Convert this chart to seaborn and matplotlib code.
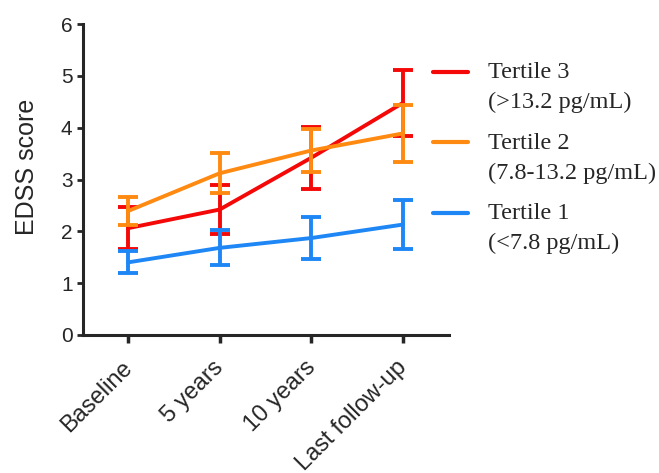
import numpy as np
import pandas as pd
import seaborn as sns
import matplotlib.pyplot as plt
from matplotlib.transforms import ScaledTranslation

timepoints = ['Baseline', '5 years', '10 years', 'Last follow-up']
groups = ['Tertile 3\n(>13.2 pg/mL)', 'Tertile 2\n(7.8-13.2 pg/mL)', 'Tertile 1\n(<7.8 pg/mL)']

t3_mean = [2.06, 2.42, 3.42, 4.48]
t3_err = [0.40, 0.48, 0.60, 0.64]
t2_mean = [2.39, 3.12, 3.56, 3.89]
t2_err = [0.27, 0.39, 0.41, 0.55]
t1_mean = [1.40, 1.68, 1.87, 2.13]
t1_err = [0.21, 0.34, 0.40, 0.48]

colors = ['#F40808', '#FF8A12', '#1E87F5']

df = pd.DataFrame({
    'time': timepoints * 3,
    'group': np.repeat(groups, 4),
    'mean': t3_mean + t2_mean + t1_mean,
    'err': t3_err + t2_err + t1_err,
})

sns.set_style('ticks')
plt.rcParams['font.family'] = ['Liberation Sans', 'DejaVu Sans']

fig = plt.figure(figsize=(6.59, 4.73), dpi=100)
ax = fig.add_axes([0.126, 0.292, 0.555, 0.657])

sns.lineplot(data=df, x='time', y='mean', hue='group', hue_order=groups,
             palette=colors, sort=False, linewidth=2.8, ax=ax)

# error bars drawn per group on the categorical positions
for i, g in enumerate(groups):
    sub = df[df['group'] == g]
    ax.errorbar(np.arange(len(timepoints)), sub['mean'], yerr=sub['err'],
                fmt='none', ecolor=colors[i], elinewidth=2.8, capsize=7,
                capthick=2.8, zorder=2 + i)
for i, line in enumerate(ax.lines[:3]):
    line.set_zorder(2 + i)

ax.set_xlim(-0.49, 3.5)
ax.set_ylim(0, 6)
ax.set_yticks(range(7))
ax.set_xlabel('')
ax.set_ylabel('EDSS score', fontsize=18)
ax.yaxis.set_label_coords(-0.12, 0.54)
ax.tick_params(axis='y', labelsize=15, width=2, length=4)
ax.tick_params(axis='x', labelsize=17, width=2.5, length=6)
shift = ScaledTranslation(-5 / 72, -6 / 72, fig.dpi_scale_trans)
for lab in ax.get_xticklabels():
    lab.set_rotation(45)
    lab.set_ha('right')
    lab.set_rotation_mode('anchor')
    lab.set_transform(lab.get_transform() + shift)
for s in ['left', 'bottom']:
    ax.spines[s].set_linewidth(2.2)
sns.despine(ax=ax)

leg = fig.legend(*ax.get_legend_handles_labels(), loc='upper left',
                 bbox_to_anchor=(433 / 659, 1 - 62 / 473), frameon=False,
                 prop={'family': 'Liberation Serif', 'size': 17.5},
                 handlelength=1.45, handleheight=1.0, handletextpad=0.8,
                 labelspacing=0.8, borderpad=0, borderaxespad=0)
ax.get_legend().remove()
for t in leg.get_texts():
    t.set_linespacing(1.55)
for h in leg.get_lines():
    h.set_linewidth(3)
# put each handle level with the first text line
for col in leg._legend_handle_box.get_children():
    for row in col.get_children():
        row.align = 'top'

fig.savefig('out.png', dpi=100)
